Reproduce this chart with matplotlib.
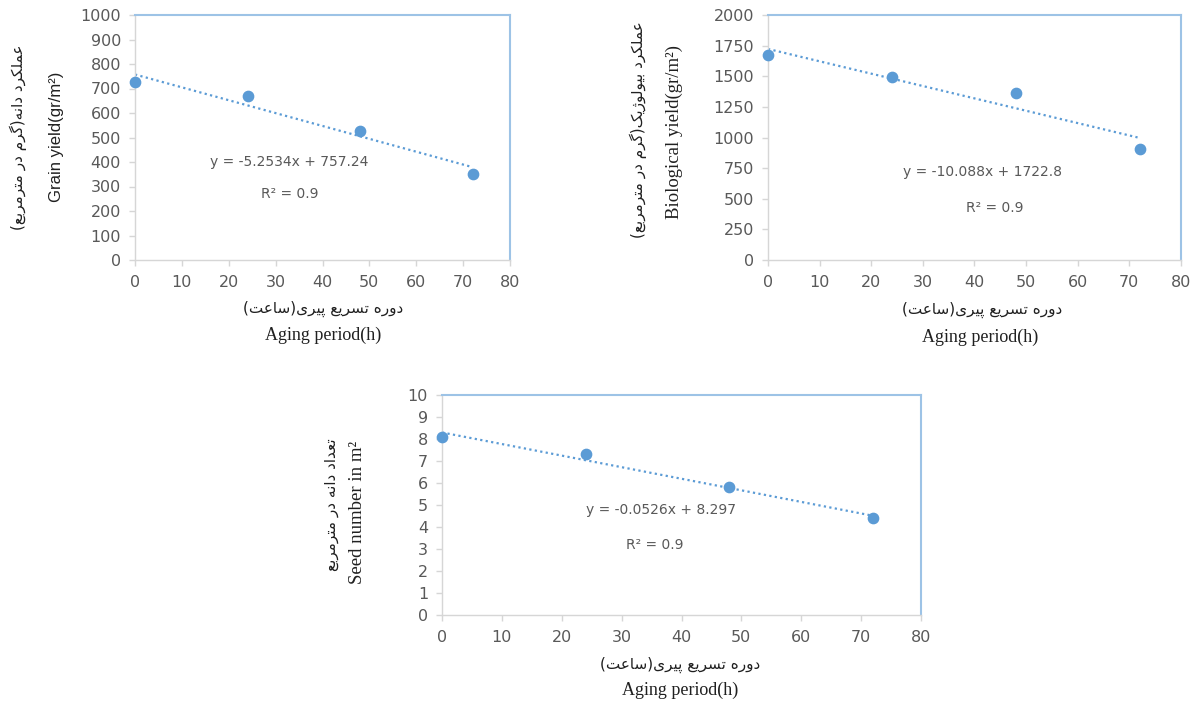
import numpy as np
from matplotlib import pyplot as plt

# ----------------- data -----------------
hours = [0, 24, 48, 72]
grain_yield = [725, 668, 528, 352]
bio_yield = [1672, 1490, 1360, 908]
seed_number = [8.1, 7.3, 5.8, 4.4]

grain_fit = (-5.2534, 757.24)
bio_fit = (-10.088, 1722.8)
seed_fit = (-0.0526, 8.297)

grain_eq = "y = -5.2534x + 757.24"
bio_eq = "y = -10.088x + 1722.8"
seed_eq = "y = -0.0526x + 8.297"
r2_text = "R² = 0.9"

fa_xlabel = "دوره تسریع پیری(ساعت)"
fa_grain = "عملکرد دانه(گرم در مترمربع)"
fa_bio = "عملکرد بیولوژیک(گرم در مترمربع)"
fa_seed = "تعداد دانه در مترمربع"

BLUE = "#5B9BD5"
GREY = "#595959"
W, H = 1204, 704

# ----------------- persian shaping (matplotlib has no bidi) -----------------
DUAL = {
    "ع": "\uFEC9\uFECA\uFECB\uFECC", "م": "\uFEE1\uFEE2\uFEE3\uFEE4",
    "ل": "\uFEDD\uFEDE\uFEDF\uFEE0", "ک": "\uFB8E\uFB8F\uFB90\uFB91",
    "ن": "\uFEE5\uFEE6\uFEE7\uFEE8", "ه": "\uFEE9\uFEEA\uFEEB\uFEEC",
    "گ": "\uFB92\uFB93\uFB94\uFB95", "ت": "\uFE95\uFE96\uFE97\uFE98",
    "ب": "\uFE8F\uFE90\uFE91\uFE92", "ی": "\uFBFC\uFBFD\uFBFE\uFBFF",
    "س": "\uFEB1\uFEB2\uFEB3\uFEB4", "پ": "\uFB56\uFB57\uFB58\uFB59",
}
RIGHT = {
    "ر": "\uFEAD\uFEAE", "د": "\uFEA9\uFEAA", "ا": "\uFE8D\uFE8E",
    "و": "\uFEED\uFEEE", "ژ": "\uFB8A\uFB8B",
}


def shape_fa(s):
    out = []
    for i, c in enumerate(s):
        if c not in DUAL and c not in RIGHT:
            out.append(c)
            continue
        prev = s[i - 1] if i > 0 else ""
        nxt = s[i + 1] if i + 1 < len(s) else ""
        jp = prev in DUAL
        jn = c in DUAL and (nxt in DUAL or nxt in RIGHT)
        forms = DUAL.get(c) or RIGHT[c]
        if jp and jn:
            out.append(forms[3])
        elif jp:
            out.append(forms[1])
        elif jn:
            out.append(forms[2])
        else:
            out.append(forms[0])
    vis = "".join(reversed(out))
    return vis.translate(str.maketrans("()", ")("))


def px(x, y):
    return x / W, 1 - y / H


def make_axes(rect, x, y, fit, yticks, eq, eq_pos, r2_pos):
    ax = fig.add_axes(rect)
    ax.scatter(x, y, s=55, color=BLUE, zorder=3, clip_on=False)
    xs = np.array([x[0], x[-1]])
    ax.plot(xs, fit[0] * xs + fit[1], linestyle=(0, (1, 1.5)), color=BLUE, linewidth=1.6)
    ax.set_xlim(0, 80)
    ax.set_ylim(yticks[0], yticks[-1])
    ax.set_xticks(range(0, 81, 10))
    ax.set_yticks(yticks)
    for s in ("left", "bottom"):
        ax.spines[s].set_color("#D6D6D6")
        ax.spines[s].set_linewidth(1.0)
    for s in ("top", "right"):
        ax.spines[s].set_color("#9DC3E6")
        ax.spines[s].set_linewidth(1.5)
    ax.tick_params(axis="both", colors="#D6D6D6", labelcolor=GREY,
                   labelsize=11.5, length=4, width=1)
    ax.tick_params(axis="x", pad=7)
    ax.tick_params(axis="y", pad=6)
    for lab in ax.get_xticklabels() + ax.get_yticklabels():
        lab.set_family("DejaVu Sans")
    ax.text(*eq_pos, eq, color=GREY, fontsize=10, ha="center", va="center")
    ax.text(*r2_pos, r2_text, color=GREY, fontsize=10, ha="center", va="center")
    return ax


fig = plt.figure(figsize=(W / 100, H / 100), dpi=100)

# chart 1 - grain yield
ax1 = make_axes([135 / W, 1 - 260 / H, 375 / W, 245 / H], hours, grain_yield, grain_fit,
                list(range(0, 1001, 100)), grain_eq, (33, 400), (33, 268))
fig.text(*px(18, 137), shape_fa(fa_grain), rotation=90, ha="center", va="center",
         fontsize=11, family="DejaVu Sans", color="#202020")
fig.text(*px(57, 137), "Grain yield(gr/m²)", rotation=90, ha="center", va="center",
         fontsize=12, family="Liberation Sans", color="#202020")
fig.text(*px(323, 309), shape_fa(fa_xlabel), ha="center", va="center",
         fontsize=11, family="DejaVu Sans", color="#202020")
fig.text(*px(323, 335), "Aging period(h)", ha="center", va="center",
         fontsize=13, family="Liberation Serif", color="#202020")

# chart 2 - biological yield
ax2 = make_axes([768 / W, 1 - 260 / H, 413 / W, 245 / H], hours, bio_yield, bio_fit,
                list(range(0, 2001, 250)), bio_eq, (41.5, 718), (44, 424))
fig.text(*px(638, 130), shape_fa(fa_bio), rotation=90, ha="center", va="center",
         fontsize=11, family="DejaVu Sans", color="#202020")
fig.text(*px(674, 132), "Biological yield(gr/m²)", rotation=90, ha="center", va="center",
         fontsize=13.5, family="Liberation Serif", color="#202020")
fig.text(*px(982, 310), shape_fa(fa_xlabel), ha="center", va="center",
         fontsize=11, family="DejaVu Sans", color="#202020")
fig.text(*px(980, 337), "Aging period(h)", ha="center", va="center",
         fontsize=13, family="Liberation Serif", color="#202020")

# chart 3 - seed number
ax3 = make_axes([442 / W, 1 - 615 / H, 479 / W, 220 / H], hours, seed_number, seed_fit,
                list(range(0, 11)), seed_eq, (36.6, 4.77), (35.6, 3.18))
fig.text(*px(332, 505), shape_fa(fa_seed), rotation=90, ha="center", va="center",
         fontsize=11, family="DejaVu Sans", color="#202020")
fig.text(*px(358, 512), "Seed number in m²", rotation=90, ha="center", va="center",
         fontsize=13.5, family="Liberation Serif", color="#202020")
fig.text(*px(680, 665), shape_fa(fa_xlabel), ha="center", va="center",
         fontsize=11, family="DejaVu Sans", color="#202020")
fig.text(*px(680, 690), "Aging period(h)", ha="center", va="center",
         fontsize=13, family="Liberation Serif", color="#202020")

fig.savefig("out.png", dpi=100)
plt.close(fig)
